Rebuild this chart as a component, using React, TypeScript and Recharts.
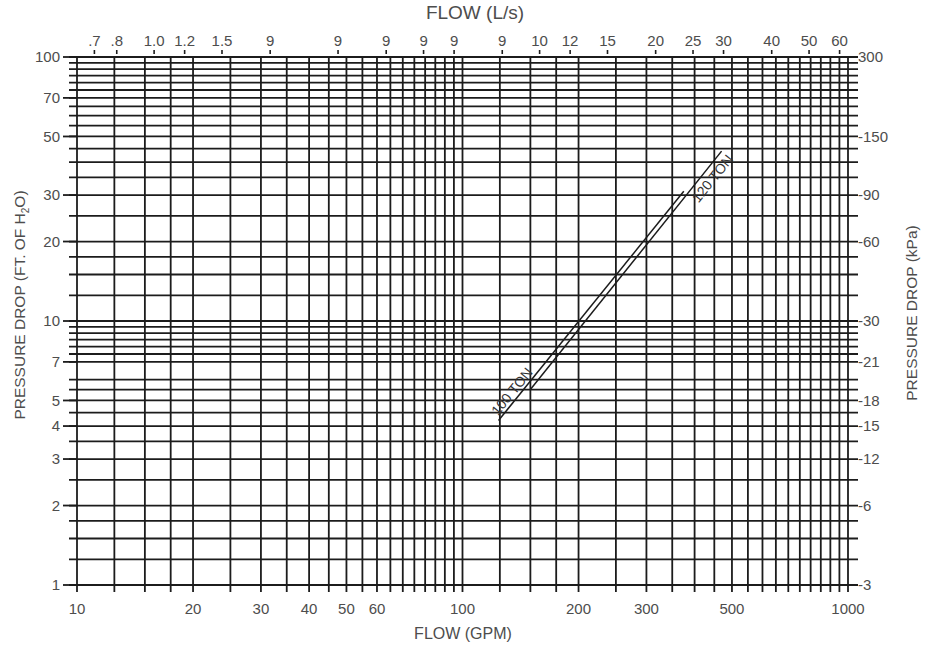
import { LineChart, Line, XAxis, YAxis, ReferenceLine } from 'recharts'

// grid positions (log paper)
const gpmGrid = [10, 12.5, 15, 17.5, 20, 25, 30, 35, 40, 45, 50, 55, 60, 65, 70, 75, 80, 85, 90, 95,
  100, 125, 150, 175, 200, 250, 300, 350, 400, 450, 500, 550, 600, 650, 700, 750, 800, 850, 900, 950, 1000]
const ftGrid = [1, 1.25, 1.5, 1.75, 2, 2.5, 3, 3.5, 4, 4.5, 5, 5.5, 6, 7, 7.5, 8, 8.5, 9, 9.5,
  10, 12.5, 15, 17.5, 20, 25, 30, 35, 40, 45, 50, 55, 60, 65, 70, 75, 80, 85, 90, 95, 100]

// axis ticks
const gpmTicks = [10, 20, 30, 40, 50, 60, 100, 200, 300, 500, 1000]
const ftTicks = [1, 2, 3, 4, 5, 7, 10, 20, 30, 50, 70, 100]
const kpaTicks = [1, 2, 3, 4, 5, 7, 10, 20, 30, 50, 100]
const kpaLabels = ['-3', '-6', '-12', '-15', '-18', '-21', '-30', '-60', '-90', '-150', '300']
const lpsTicks = [0.7, 0.8, 1.0, 1.2, 1.5, 2, 3, 4, 5, 6, 8, 10, 12, 15, 20, 25, 30, 40, 50, 60]
const lpsLabels = ['.7', '.8', '1.0', '1.2', '1.5', '9', '9', '9', '9', '9', '9', '10', '12', '15', '20', '25', '30', '40', '50', '60']
const GPM_PER_LPS = 15.85

// pressure drop curves
const ton100 = [{ gpm: 124, ft: 4.2 }, { gpm: 375, ft: 31 }]
const ton120 = [{ gpm: 150, ft: 5.5 }, { gpm: 470, ft: 44 }]

const INK = '#1c1c1c'
const TEXT = '#4d4d4d'
const FONT = '"Liberation Sans", Arial, sans-serif'
const ANGLE = -51
const U = { x: Math.cos(ANGLE * Math.PI / 180), y: Math.sin(ANGLE * Math.PI / 180) }
const N = { x: U.y, y: -U.x } // normal pointing up-left

const vLine = (p: any) => (
  <line x1={p.x1} x2={p.x2} y1={Math.min(p.y1, p.y2)} y2={Math.max(p.y1, p.y2) + 7}
    stroke={INK} strokeWidth={1.8} />
)

const hLine = (p: any) => (
  <line x1={Math.min(p.x1, p.x2) - 8} x2={Math.max(p.x1, p.x2) + 10} y1={p.y1} y2={p.y2}
    stroke={INK} strokeWidth={1.8} />
)

function topTick(p: any) {
  const { x, y, index, payload } = p
  let i = index
  if (i == null) i = lpsTicks.findIndex(v => Math.abs(v * GPM_PER_LPS - payload.value) < 1e-6)
  return (
    <g key={'t' + i}>
      <line x1={x} x2={x} y1={y - 7} y2={y - 3} stroke={INK} strokeWidth={1.6} />
      <text x={x} y={y - 11} textAnchor="middle" fill={TEXT} fontSize={15} fontFamily={FONT}>
        {lpsLabels[i]}
      </text>
    </g>
  )
}

function TonLabel({ x, y, index, text, at, along, side }: any) {
  if (index !== at || x == null) return null
  const cx = x + along * U.x + side * N.x
  const cy = y + along * U.y + side * N.y
  return (
    <text x={cx} y={cy} textAnchor="middle" dominantBaseline="central" fontSize={14}
      fontFamily={FONT} fill="#333" transform={`rotate(${ANGLE} ${cx} ${cy})`}>
      {text}
    </text>
  )
}

export default function App() {
  return (
    <div style={{ position: 'absolute', left: 0, top: 0, width: 930, height: 649, background: '#fff', fontFamily: FONT }}>
      <LineChart width={930} height={649} margin={{ top: 27, right: 32, bottom: 34, left: 37 }}>
        <XAxis xAxisId="bottom" dataKey="gpm" type="number" scale="log" domain={[10, 1000]} allowDataOverflow
          ticks={gpmTicks} interval={0} height={30} axisLine={false} tickLine={false} tickSize={0} tickMargin={18}
          tick={{ fill: TEXT, fontSize: 15, fontFamily: FONT }} />
        <XAxis xAxisId="top" dataKey="gpm" orientation="top" type="number" scale="log" domain={[10, 1000]} allowDataOverflow
          ticks={lpsTicks.map(v => v * GPM_PER_LPS)} interval={0} height={30} axisLine={false} tickLine={false}
          tickSize={0} tickMargin={0} tick={topTick} />
        <YAxis yAxisId="left" type="number" scale="log" domain={[1, 100]} allowDataOverflow
          ticks={ftTicks} interval={0} width={40} axisLine={false} tickSize={14} tickMargin={3}
          tickLine={{ stroke: INK, strokeWidth: 1.8 }}
          tick={{ fill: TEXT, fontSize: 15, fontFamily: FONT }} />
        <YAxis yAxisId="right" orientation="right" type="number" scale="log" domain={[1, 100]} allowDataOverflow
          ticks={kpaTicks} interval={0} width={50} axisLine={false} tickLine={false} tickSize={10} tickMargin={0}
          tickFormatter={(v: number) => kpaLabels[kpaTicks.indexOf(v)] ?? ''}
          tick={{ fill: TEXT, fontSize: 15, fontFamily: FONT }} />

        {ftGrid.map(v => (
          <ReferenceLine key={'h' + v} xAxisId="bottom" yAxisId="left" y={v} shape={hLine} />
        ))}
        {gpmGrid.map(v => (
          <ReferenceLine key={'v' + v} xAxisId="bottom" yAxisId="left" x={v} shape={vLine} />
        ))}

        <Line data={ton100} xAxisId="bottom" yAxisId="left" dataKey="ft" stroke={INK} strokeWidth={1.5}
          dot={false} isAnimationActive={false}
          label={(p: any) => <TonLabel key={'l100' + p.index} {...p} text="100 TON" at={0} along={31} side={8} />} />
        <Line data={ton120} xAxisId="top" yAxisId="right" dataKey="ft" stroke={INK} strokeWidth={1.5}
          dot={false} isAnimationActive={false}
          label={(p: any) => <TonLabel key={'l120' + p.index} {...p} text="120 TON" at={1} along={-27} side={-10} />} />
      </LineChart>

      <div style={{ position: 'absolute', left: 375, top: 3, width: 200, textAlign: 'center', fontSize: 19, lineHeight: '20px', color: TEXT }}>
        FLOW (L/s)
      </div>
      <div style={{ position: 'absolute', left: 363, top: 624, width: 200, textAlign: 'center', fontSize: 16, lineHeight: '20px', color: TEXT }}>
        FLOW (GPM)
      </div>
      <div style={{ position: 'absolute', left: -130, top: 295, width: 300, height: 20, textAlign: 'center', fontSize: 15.5, lineHeight: '20px', color: TEXT, transform: 'rotate(-90deg)' }}>
        PRESSURE DROP (FT. OF H<sub style={{ fontSize: 10 }}>2</sub>O)
      </div>
      <div style={{ position: 'absolute', left: 792, top: 303, width: 240, height: 20, textAlign: 'center', fontSize: 15.5, lineHeight: '20px', color: TEXT, transform: 'rotate(-90deg)' }}>
        PRESSURE DROP (kPa)
      </div>
    </div>
  )
}
